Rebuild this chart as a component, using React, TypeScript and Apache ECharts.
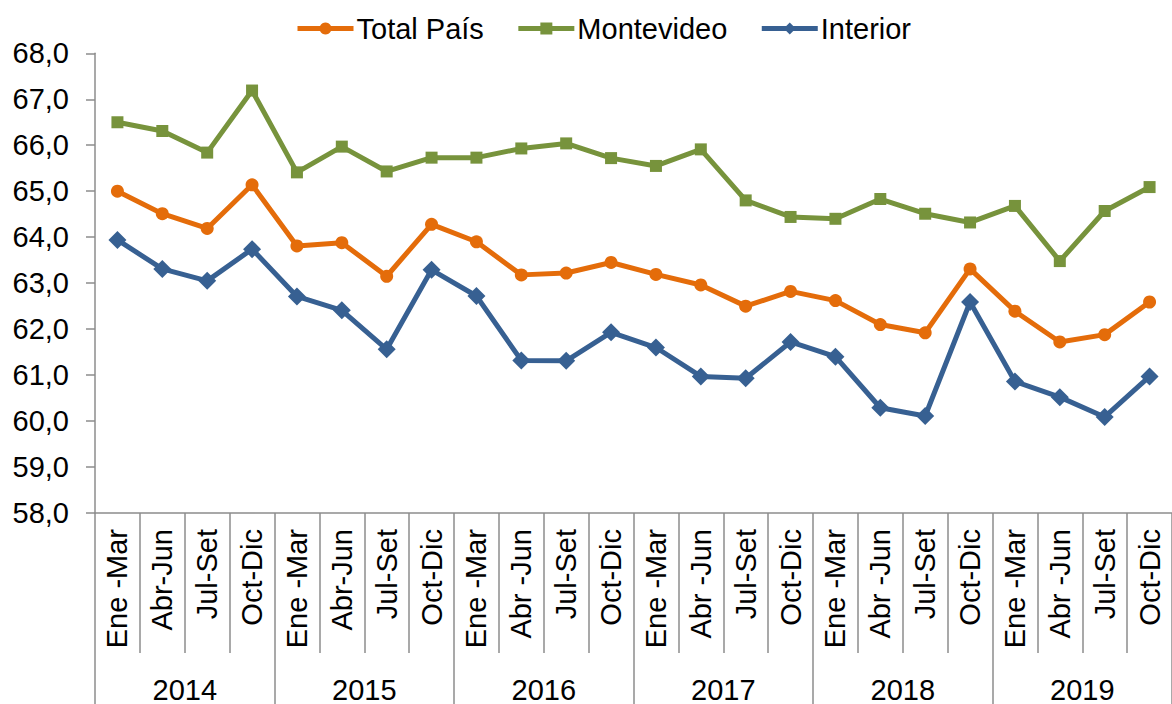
import React, { useEffect, useRef } from "react";
import * as echarts from "echarts";

const quarters = [
  "Ene -Mar", "Abr-Jun", "Jul-Set", "Oct-Dic",
  "Ene -Mar", "Abr-Jun", "Jul-Set", "Oct-Dic",
  "Ene -Mar", "Abr -Jun", "Jul-Set", "Oct-Dic",
  "Ene -Mar", "Abr -Jun", "Jul-Set", "Oct-Dic",
  "Ene -Mar", "Abr -Jun", "Jul-Set", "Oct-Dic",
  "Ene -Mar", "Abr -Jun", "Jul-Set", "Oct-Dic",
];
const years = ["2014", "2015", "2016", "2017", "2018", "2019"];

const totalPais = [65.0, 64.51, 64.19, 65.14, 63.81, 63.88, 63.15, 64.28, 63.9, 63.18, 63.22, 63.45, 63.19, 62.96, 62.5, 62.82, 62.62, 62.1, 61.92, 63.31, 62.39, 61.72, 61.88, 62.59];
const montevideo = [66.5, 66.31, 65.84, 67.19, 65.41, 65.97, 65.43, 65.73, 65.73, 65.93, 66.04, 65.72, 65.55, 65.91, 64.8, 64.44, 64.4, 64.83, 64.51, 64.32, 64.68, 63.48, 64.57, 65.09];
const interior = [63.94, 63.31, 63.05, 63.74, 62.71, 62.41, 61.56, 63.29, 62.72, 61.32, 61.31, 61.93, 61.6, 60.97, 60.93, 61.72, 61.4, 60.29, 60.11, 62.59, 60.86, 60.52, 60.09, 60.97];

const FONT = "'Liberation Sans', Arial, sans-serif";
const AXIS_COLOR = "#8c8c8c";
const FS = 29;

export default function App() {
  const ref = useRef<HTMLDivElement>(null);
  useEffect(() => {
    if (!ref.current) return;
    const chart = echarts.init(ref.current, undefined, { renderer: "svg" });
    const mkSeries = (name: string, data: number[], color: string, symbol: string, size: number) => ({
      name,
      type: "line",
      data,
      symbol,
      symbolSize: size,
      lineStyle: { color, width: 5 },
      itemStyle: { color },
      xAxisIndex: 0,
      yAxisIndex: 0,
    });
    chart.setOption({
      animation: false,
      textStyle: { fontFamily: FONT },
      legend: {
        left: 290,
        top: 9,
        itemWidth: 56,
        itemHeight: 15,
        itemGap: 32,
        lineStyle: { width: 5 },
        textStyle: { fontSize: FS, color: "#000", fontFamily: FONT, padding: [0, 0, 0, -2] },
        data: ["Total País", "Montevideo", "Interior"],
      },
      grid: { left: 95, top: 53.3, width: 1085, height: 463.7 },
      xAxis: [
        {
          type: "category",
          data: quarters,
          position: "bottom",
          boundaryGap: true,
          axisLine: { show: true, lineStyle: { color: AXIS_COLOR, width: 1.5 } },
          axisTick: { show: true, interval: 0, length: 140, lineStyle: { color: AXIS_COLOR, width: 1.5 } },
          axisLabel: {
            interval: 0,
            rotate: 90,
            margin: 16,
            fontSize: FS,
            color: "#000",
            fontFamily: FONT,
          },
        },
        {
          type: "category",
          data: years,
          position: "bottom",
          offset: 140,
          boundaryGap: true,
          axisLine: { show: false },
          axisTick: { show: true, interval: 0, length: 60, lineStyle: { color: AXIS_COLOR, width: 1.5 } },
          axisLabel: { interval: 0, margin: 22, fontSize: FS, color: "#000", fontFamily: FONT },
        },
      ],
      yAxis: {
        type: "value",
        min: 58,
        max: 68,
        interval: 1,
        axisLine: { show: true, lineStyle: { color: AXIS_COLOR, width: 1.5 } },
        axisTick: { show: true, inside: false, length: 9, lineStyle: { color: AXIS_COLOR, width: 1.5 } },
        splitLine: { show: false },
        axisLabel: {
          margin: 26,
          fontSize: FS,
          color: "#000",
          fontFamily: FONT,
          formatter: (v: number) => v.toFixed(1).replace(".", ","),
        },
      },
      series: [
        mkSeries("Total País", totalPais, "#E46C0A", "circle", 13),
        mkSeries("Montevideo", montevideo, "#77933C", "rect", 12),
        mkSeries("Interior", interior, "#376092", "diamond", 18),
      ],
    });
    return () => chart.dispose();
  }, []);
  return (
    <div
      ref={ref}
      style={{ position: "absolute", left: 0, top: 0, width: 1172, height: 704, background: "#fff" }}
    />
  );
}
